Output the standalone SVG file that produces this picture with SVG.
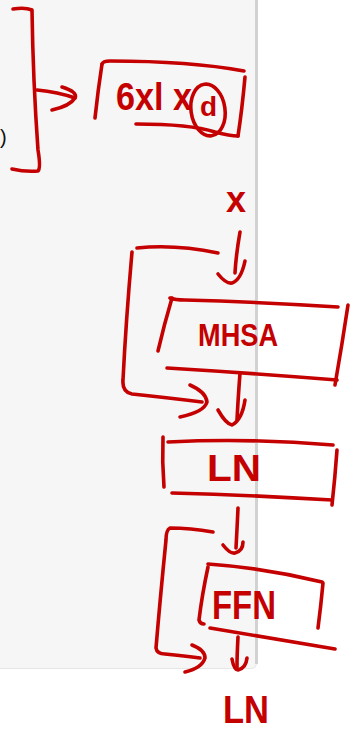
<svg xmlns="http://www.w3.org/2000/svg" width="360" height="730" viewBox="0 0 360 730">
  <style>
    .ink { fill: none; stroke: #c40000; stroke-width: 3.6; stroke-linecap: round; stroke-linejoin: round; }
    .lbl { fill: #c40000; font-family: "Liberation Sans", "DejaVu Sans", sans-serif; font-weight: bold; }
  </style>

  <!-- page background: grey side panel with a divider -->
  <rect x="0" y="0" width="360" height="730" fill="#ffffff"/>
  <path d="M0 0 H256 V664 Q256 668 252 668 H0 Z" fill="#f6f6f6"/>
  <line x1="256.5" y1="0" x2="256.5" y2="664" stroke="#d2d2d2" stroke-width="3"/>
  <path d="M0 668.5 H252 Q256 668 256.5 664" fill="none" stroke="#e6e6e6" stroke-width="1"/>
  <text x="0" y="144" font-family="Liberation Sans, sans-serif" font-size="20" fill="#111">)</text>

  <!-- connectors -->
  <g id="connectors">
    <!-- closing bracket and arrow into the stack box -->
    <path class="ink" d="M13 9 Q25 7 32 10 Q33 80 38 150 Q41 168 38 171 Q25 172 12 169"/>
    <path class="ink" d="M37 90 Q58 92 75 98"/>
    <path class="ink" d="M62 87 Q78 92 75 98 Q70 106 52 110"/>

    <!-- x into MHSA -->
    <path class="ink" d="M240 232 Q236 255 235 273"/>
    <path class="ink" d="M218 274 Q226 284 232 283 Q241 280 245 261"/>

    <!-- residual around MHSA -->
    <path class="ink" d="M137 248 Q175 244 218 253"/>
    <path class="ink" d="M132 252 Q126 320 123 380 Q122 392 132 394 Q170 398 202 402"/>
    <path class="ink" d="M190 385 Q206 392 207 402 Q204 412 180 417"/>

    <!-- MHSA into LN -->
    <path class="ink" d="M240 373 Q238 400 237 420"/>
    <path class="ink" d="M218 410 Q226 424 232 425 Q242 420 245 400"/>

    <!-- LN into FFN -->
    <path class="ink" d="M238 508 Q237 530 236 548"/>
    <path class="ink" d="M223 545 Q230 554 235 553 Q243 551 243 542"/>

    <!-- residual around FFN -->
    <path class="ink" d="M213 532 Q190 528 170 528 Q166 530 166 540 Q160 600 156 648 Q157 654 165 654 Q185 656 200 658"/>
    <path class="ink" d="M192 645 Q205 650 205 658 Q202 668 185 672"/>

    <!-- FFN out -->
    <path class="ink" d="M238 637 Q237 655 237 668"/>
    <path class="ink" d="M232 659 Q234 670 238 670 Q246 668 247 658"/>
  </g>

  <!-- 6 x l x d block -->
  <g id="stack">
    <path class="ink" d="M102 64 Q98 90 95 118"/>
    <path class="ink" d="M102 64 Q103 61 110 61 Q190 61 244 71"/>
    <path class="ink" d="M245 77 Q242 110 238 136"/>
    <path class="ink" d="M136 124 Q190 124 215 132 Q230 136 238 136"/>
    <text class="lbl" x="116" y="110" font-size="38" textLength="76" lengthAdjust="spacingAndGlyphs">6xl x</text>
    <text class="lbl" x="200" y="116" font-size="28">d</text>
    <ellipse class="ink" cx="208" cy="110" rx="17" ry="26" transform="rotate(-8 208 110)"/>
  </g>

  <g id="input-x">
    <text class="lbl" x="226" y="212" font-size="36">x</text>
  </g>

  <g id="mhsa">
    <path class="ink" d="M172 298 Q164 325 158 351"/>
    <path class="ink" d="M170 298 Q175 300 185 300 Q260 302 338 307"/>
    <path class="ink" d="M348 305 Q342 345 335 385"/>
    <path class="ink" d="M167 368 Q250 373 337 380"/>
    <text class="lbl" x="198" y="346" font-size="32" textLength="80" lengthAdjust="spacingAndGlyphs">MHSA</text>
  </g>

  <g id="ln-1">
    <path class="ink" d="M163 437 Q162 462 164 487"/>
    <path class="ink" d="M168 442 Q250 438 333 445"/>
    <path class="ink" d="M337 450 Q335 478 332 505"/>
    <path class="ink" d="M172 493 Q250 495 332 500"/>
    <text class="lbl" x="207" y="481" font-size="36" textLength="54" lengthAdjust="spacingAndGlyphs">LN</text>
  </g>

  <g id="ffn">
    <path class="ink" d="M208 567 Q202 595 199 620 Q200 624 204 624"/>
    <path class="ink" d="M208 564 Q265 568 322 582"/>
    <path class="ink" d="M323 583 Q321 605 318 628"/>
    <path class="ink" d="M210 628 Q270 638 335 649"/>
    <text class="lbl" x="212" y="619" font-size="40" textLength="64" lengthAdjust="spacingAndGlyphs">FFN</text>
  </g>

  <g id="ln-2">
    <text class="lbl" x="223" y="723" font-size="38" textLength="46" lengthAdjust="spacingAndGlyphs">LN</text>
  </g>
</svg>
